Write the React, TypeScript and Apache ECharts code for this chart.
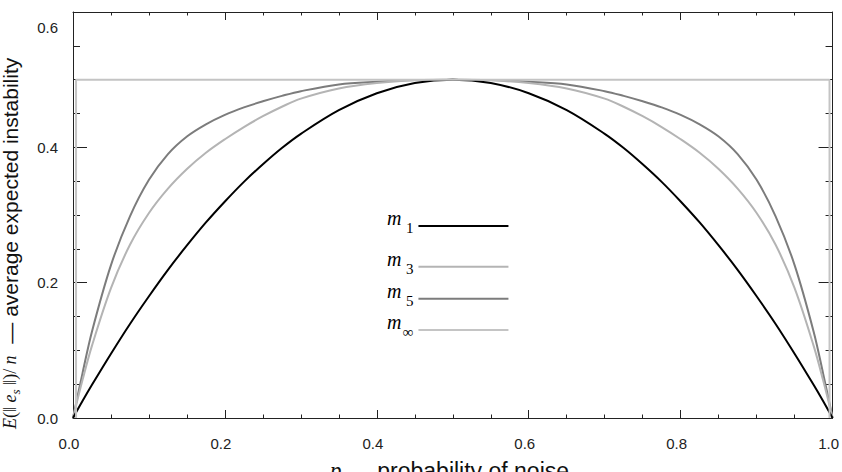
import { useEffect, useRef } from 'react';
import * as echarts from 'echarts';

// probability of noise (x positions of the sampled points)
const P = [0, 0.0125, 0.025, 0.05, 0.075, 0.1, 0.125, 0.15, 0.175, 0.2, 0.225, 0.25, 0.275, 0.3, 0.35, 0.4, 0.45, 0.5,
  0.55, 0.6, 0.65, 0.7, 0.725, 0.75, 0.775, 0.8, 0.825, 0.85, 0.875, 0.9, 0.925, 0.95, 0.975, 0.9875, 1];

// average expected instability for each model
const M1 = [0, 0.025, 0.049, 0.095, 0.139, 0.18, 0.219, 0.255, 0.289, 0.32, 0.349, 0.375, 0.399, 0.42, 0.455, 0.48, 0.495, 0.5,
  0.495, 0.48, 0.455, 0.42, 0.399, 0.375, 0.349, 0.32, 0.289, 0.255, 0.219, 0.18, 0.139, 0.095, 0.049, 0.025, 0];
const M3 = [0, 0.056, 0.107, 0.192, 0.256, 0.303, 0.339, 0.368, 0.392, 0.412, 0.43, 0.446, 0.46, 0.472, 0.487, 0.495, 0.499, 0.5,
  0.499, 0.495, 0.487, 0.472, 0.46, 0.446, 0.43, 0.412, 0.392, 0.368, 0.339, 0.303, 0.256, 0.192, 0.107, 0.056, 0];
const M5 = [0, 0.066, 0.128, 0.226, 0.298, 0.352, 0.39, 0.416, 0.434, 0.448, 0.459, 0.468, 0.476, 0.483, 0.493, 0.497, 0.4995, 0.5,
  0.4995, 0.497, 0.493, 0.483, 0.476, 0.468, 0.459, 0.448, 0.434, 0.416, 0.39, 0.352, 0.298, 0.226, 0.128, 0.066, 0];
const MINF_P = [0.004, 0.004, 0.996, 0.996];
const MINF = [0, 0.5, 0.5, 0];

const NAMES = ['m1', 'm3', 'm5', 'm∞'];
const SUBS = ['1', '3', '5', '∞'];
const COLORS = ['#000000', '#b4b4b4', '#7c7c7c', '#c4c4c4'];
// y of each legend line
const LEGEND_LINES = [226, 266.7, 298.7, 330];

const SANS = 'Liberation Sans, Arial, sans-serif';
const SERIF = 'Liberation Serif, Times New Roman, serif';
const AXIS_COLOR = '#222';

function pairs(xs: number[], ys: number[]) {
  return xs.map((x, i) => [x, ys[i]]);
}

export default function App() {
  const ref = useRef<HTMLDivElement>(null);

  useEffect(() => {
    if (!ref.current) return;
    const chart = echarts.init(ref.current, null, { renderer: 'svg' });

    const xAxisBase = {
      type: 'value' as const,
      min: 0,
      max: 1,
      interval: 0.2,
      splitLine: { show: false },
      axisLine: { show: true, onZero: false, lineStyle: { color: AXIS_COLOR, width: 1 } },
      axisTick: { show: true, inside: true, length: 8, lineStyle: { color: AXIS_COLOR } },
      minorTick: { show: true, splitNumber: 4, length: 3.5, lineStyle: { color: AXIS_COLOR } },
    };
    const yAxisBase = {
      type: 'value' as const,
      min: 0,
      max: 0.6,
      interval: 0.2,
      splitLine: { show: false },
      axisLine: { show: true, onZero: false, lineStyle: { color: AXIS_COLOR, width: 1 } },
      axisTick: { show: true, inside: true, length: 14, lineStyle: { color: AXIS_COLOR } },
      minorTick: { show: true, splitNumber: 4, length: 7, lineStyle: { color: AXIS_COLOR } },
    };

    const seriesData = [pairs(P, M1), pairs(P, M3), pairs(P, M5), pairs(MINF_P, MINF)];

    // "m" is lifted by bottom padding, its subscript dropped by top padding;
    // the row (and the line icon) stays centred on the row's middle
    const legendRich = {
      m: { fontFamily: SERIF, fontStyle: 'italic', fontSize: 20, lineHeight: 20, padding: [0, 0, 16, 0], color: '#000' },
      s: { fontFamily: SERIF, fontSize: 15, lineHeight: 15, padding: [4, 0, 0, 0], width: 12, color: '#000' },
    };

    chart.setOption({
      animation: false,
      backgroundColor: '#ffffff',
      grid: { left: 73, right: 6, top: 12, bottom: 54 },
      xAxis: [
        {
          ...xAxisBase,
          position: 'bottom',
          axisLabel: {
            show: true,
            margin: 18,
            fontFamily: SANS,
            fontSize: 15,
            color: AXIS_COLOR,
            padding: [0, 8, 0, 0],
            formatter: (v: number) => v.toFixed(1),
          },
        },
        { ...xAxisBase, position: 'top', axisLabel: { show: false } },
      ],
      yAxis: [
        {
          ...yAxisBase,
          position: 'left',
          axisLabel: {
            show: true,
            margin: 15,
            fontFamily: SANS,
            fontSize: 15,
            color: AXIS_COLOR,
            formatter: (v: number) => (v > 0.59 ? `{top|${v.toFixed(1)}}` : v.toFixed(1)),
            rich: {
              top: { fontFamily: SANS, fontSize: 15, color: AXIS_COLOR, padding: [30, 0, 0, 0] },
            },
          },
        },
        { ...yAxisBase, position: 'right', axisLabel: { show: false } },
      ],
      legend: NAMES.map((name, i) => ({
        data: [name],
        left: 387,
        top: LEGEND_LINES[i] - 18,
        orient: 'vertical',
        align: 'right',
        icon: 'rect',
        itemWidth: 90,
        itemHeight: 2,
        padding: 0,
        selectedMode: false,
        formatter: () => `{m|m}{s|${SUBS[i]}}`,
        textStyle: { rich: legendRich },
      })),
      series: NAMES.map((name, i) => ({
        name,
        type: 'line',
        data: seriesData[i],
        xAxisIndex: 0,
        yAxisIndex: 0,
        symbol: 'none',
        smooth: i === 3 ? false : 0.35,
        lineStyle: { color: COLORS[i], width: 2 },
        itemStyle: { color: COLORS[i] },
        z: i === 3 ? 4 : 3 - i,
      })),
      graphic: [
        {
          type: 'text',
          x: 10,
          y: 429,
          rotation: Math.PI / 2,
          style: {
            text: '{e|E}{r|(‖ }{e|e}{s|s}{r| ‖)/ }{e|n}{t|  — average expected instability}',
            align: 'left',
            verticalAlign: 'middle',
            rich: {
              e: { fontFamily: SERIF, fontStyle: 'italic', fontSize: 18, lineHeight: 24, fill: '#111' },
              r: { fontFamily: SERIF, fontSize: 18, lineHeight: 24, fill: '#111' },
              s: { fontFamily: SERIF, fontStyle: 'italic', fontSize: 13, lineHeight: 13, verticalAlign: 'bottom', fill: '#111' },
              t: { fontFamily: SANS, fontSize: 21, lineHeight: 24, fill: '#111' },
            },
          },
        },
        {
          type: 'text',
          x: 330,
          y: 459,
          style: {
            text: '{i|p}{t| — probability of noise}',
            align: 'left',
            verticalAlign: 'top',
            rich: {
              i: { fontFamily: SERIF, fontStyle: 'italic', fontSize: 23, lineHeight: 23, fill: '#111' },
              t: { fontFamily: SANS, fontSize: 23, lineHeight: 23, fill: '#111' },
            },
          },
        },
      ],
    });

    return () => chart.dispose();
  }, []);

  return (
    <div
      ref={ref}
      style={{ position: 'fixed', left: 0, top: 0, width: 842, height: 472, background: '#fff' }}
    />
  );
}
